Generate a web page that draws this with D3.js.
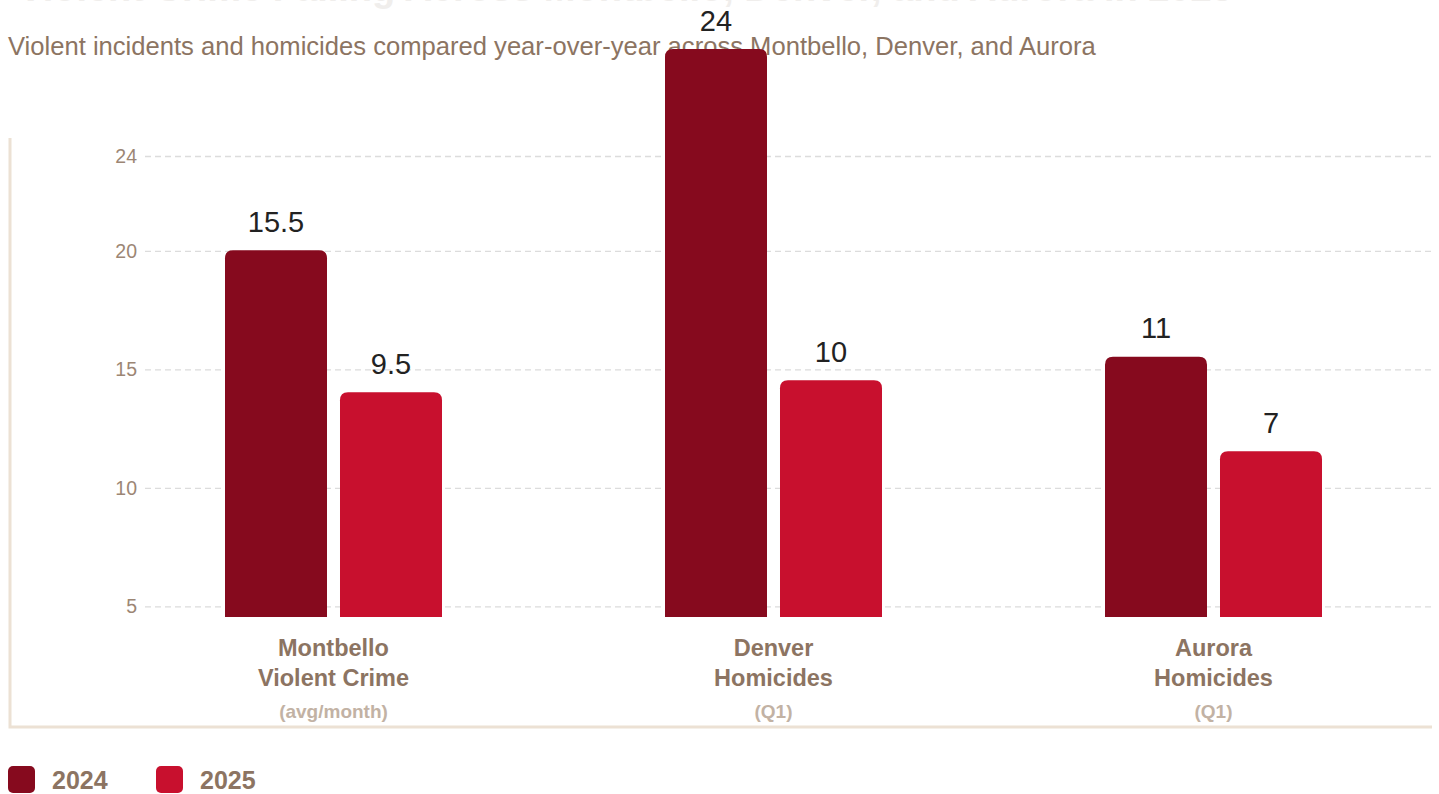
<!DOCTYPE html>
<html>
<head>
<meta charset="utf-8">
<script src="https://cdn.jsdelivr.net/npm/d3@7"></script>
<style>
  html, body { margin: 0; padding: 0; background: #fff; overflow: hidden; }
  svg { display: block; }
</style>
</head>
<body>
<div id="chart"></div>
<script>
// data
const categories = ["Montbello", "Denver", "Aurora"];
const labelLine1 = ["Montbello", "Denver", "Aurora"];
const labelLine2 = ["Violent Crime", "Homicides", "Homicides"];
const labelNote = ["(avg/month)", "(Q1)", "(Q1)"];
const years = ["2024", "2025"];
const values2024 = [15.5, 24, 11];
const values2025 = [9.5, 10, 7];
const yTicks = [5, 10, 15, 20, 24];

const yearFill = { "2024": "#860a1e", "2025": "#c8102e" };
const textBrown = "#8c7462";
const lightBrown = "#c2b2a4";
const font = "Liberation Sans, Arial, sans-serif";

const width = 1439, height = 794;

let svg = d3.select("div#chart")
  .append("svg")
  .attr("width", width)
  .attr("height", height);

// title (cut off at the top edge)
svg.append("text")
  .attr("x", 18)
  .attr("y", 1)
  .text("Violent Crime Falling Across Montbello, Denver, and Aurora in 2025")
  .attr("fill", "#f0eeec")
  .attr("font-family", font)
  .attr("font-weight", "bold")
  .attr("font-size", "38px");

// frame
svg.append("path")
  .attr("d", "M10,138 V727 H1432")
  .attr("fill", "none")
  .attr("stroke", "#ece1d4")
  .attr("stroke-width", 3);

// scales
const axisY = d3.scaleLinear().domain([0, 24]).range([725, 156]);
const barY = d3.scaleLinear().domain([0, 24]).range([617, 49]);
const x0 = d3.scaleBand().domain(categories).range([113.5, 1433.5]);
const x1 = d3.scaleBand().domain(years).range([-108.5, 108.5]).paddingInner(0.113);

// grid + tick labels
const yAxis = d3.axisLeft(axisY)
  .tickValues(yTicks)
  .tickSize(-(1432 - 145))
  .tickPadding(8)
  .tickFormat(d3.format("d"));

const axisG = svg.append("g")
  .attr("transform", "translate(145,0)")
  .call(yAxis);

axisG.select(".domain").remove();
axisG.selectAll(".tick line")
  .attr("stroke", "#dcdcdc")
  .attr("stroke-width", 1.3)
  .attr("stroke-dasharray", "6,4");
axisG.selectAll(".tick text")
  .attr("fill", "#9c8674")
  .attr("font-family", font)
  .attr("font-size", "19.5px");

// subtitle
svg.append("text")
  .attr("x", 8)
  .attr("y", 55)
  .text("Violent incidents and homicides compared year-over-year across Montbello, Denver, and Aurora")
  .attr("fill", textBrown)
  .attr("font-family", font)
  .attr("font-size", "25.6px");

// bars
const barData = [];
categories.forEach((c, i) => {
  barData.push({ cat: c, year: "2024", value: values2024[i] });
  barData.push({ cat: c, year: "2025", value: values2025[i] });
});

function topRounded(x, y, w, h, r) {
  return `M${x},${y + h} V${y + r} Q${x},${y} ${x + r},${y} H${x + w - r} Q${x + w},${y} ${x + w},${y + r} V${y + h} Z`;
}

const barG = svg.append("g");
barG.selectAll("path.bar")
  .data(barData)
  .enter()
  .append("path")
  .attr("class", "bar")
  .attr("d", d => {
    const bx = x0(d.cat) + x0.bandwidth() / 2 + x1(d.year);
    const by = barY(d.value);
    return topRounded(bx, by, x1.bandwidth(), barY(0) - by, 8);
  })
  .attr("fill", d => yearFill[d.year]);

barG.selectAll("text.val")
  .data(barData)
  .enter()
  .append("text")
  .attr("class", "val")
  .attr("x", d => x0(d.cat) + x0.bandwidth() / 2 + x1(d.year) + x1.bandwidth() / 2)
  .attr("y", d => barY(d.value) - 18.5)
  .attr("text-anchor", "middle")
  .text(d => d.value)
  .attr("fill", "#222")
  .attr("font-family", font)
  .attr("font-size", "29px");

// category labels
const catG = svg.append("g");
categories.forEach((c, i) => {
  const cx = x0(c) + x0.bandwidth() / 2;
  catG.append("text")
    .attr("x", cx).attr("y", 655.5)
    .attr("text-anchor", "middle")
    .text(labelLine1[i])
    .attr("fill", textBrown)
    .attr("font-family", font)
    .attr("font-weight", "bold")
    .attr("font-size", "23.5px");
  catG.append("text")
    .attr("x", cx).attr("y", 685.5)
    .attr("text-anchor", "middle")
    .text(labelLine2[i])
    .attr("fill", textBrown)
    .attr("font-family", font)
    .attr("font-weight", "bold")
    .attr("font-size", "23.5px");
  catG.append("text")
    .attr("x", cx).attr("y", 718)
    .attr("text-anchor", "middle")
    .text(labelNote[i])
    .attr("fill", lightBrown)
    .attr("font-family", font)
    .attr("font-weight", "bold")
    .attr("font-size", "19px");
});

// legend
const legendX = [8, 156];
const legend = svg.append("g");
years.forEach((y, i) => {
  legend.append("rect")
    .attr("x", legendX[i]).attr("y", 766)
    .attr("width", 27).attr("height", 27)
    .attr("rx", 5)
    .attr("fill", yearFill[y]);
  legend.append("text")
    .attr("x", legendX[i] + 44).attr("y", 789)
    .text(y)
    .attr("fill", textBrown)
    .attr("font-family", font)
    .attr("font-weight", "bold")
    .attr("font-size", "25px");
});
</script>
</body>
</html>
